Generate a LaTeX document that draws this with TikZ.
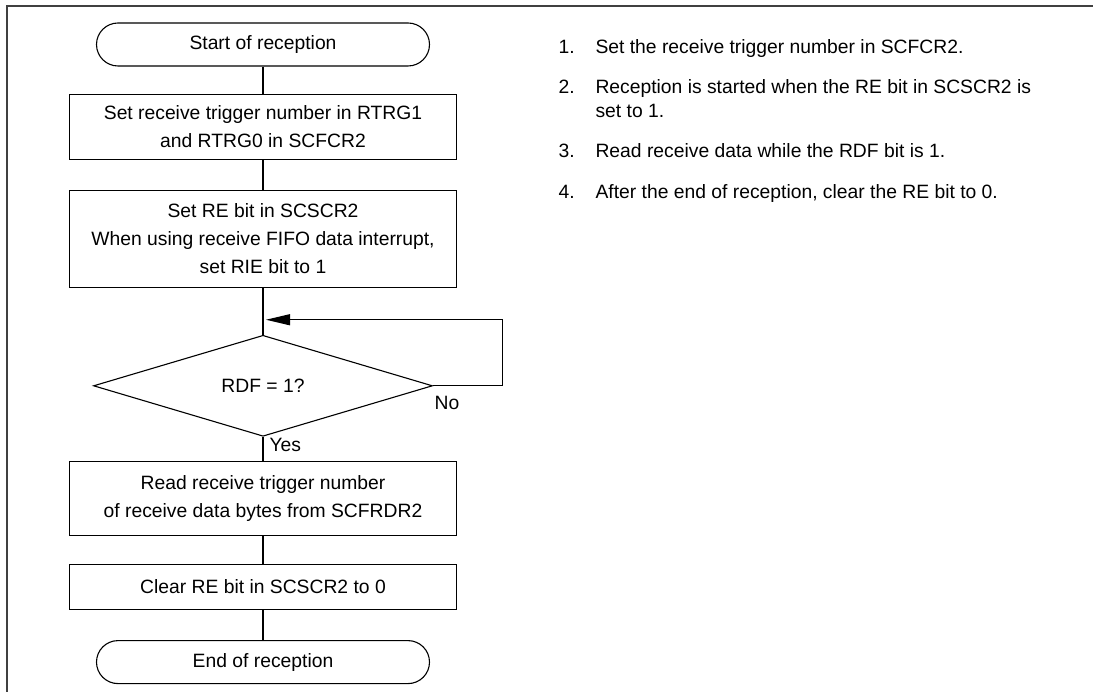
\documentclass[tikz,border=0pt]{standalone}
\usepackage{fontspec}
\setmainfont{Liberation Sans}
\usetikzlibrary{positioning,shapes.geometric,arrows.meta}

\begin{document}
\begin{tikzpicture}[x=1pt,y=1pt,line width=1.1pt,
  t/.style={draw,rounded corners=21.5pt,minimum width=333pt,minimum height=43pt,inner sep=0pt,font=\fontsize{19.3}{28}\selectfont},
  b/.style={draw,align=center,minimum width=387pt,inner sep=0pt,font=\fontsize{19.3}{28}\selectfont},
  q/.style={draw,diamond,aspect=3.36,minimum width=339pt,minimum height=101pt,inner sep=0pt,font=\fontsize{19.3}{28}\selectfont},
  l/.style={inner sep=0pt,font=\fontsize{19.3}{28}\selectfont},
  n/.style={anchor=base west,inner sep=0pt,font=\fontsize{19.3}{24}\selectfont}]
\useasboundingbox (0,0) rectangle (1093,-692);
\draw[line width=1.6pt,black!75] (1093,-6) -- (7,-6) -- (7,-692);
% flow chart
\node[t] (start) at (263,-44.5) {Start of reception};
\node[b,minimum height=65pt,below=27pt of start] (s1) {Set receive trigger number in RTRG1\\and RTRG0 in SCFCR2};
\node[b,minimum height=97pt,below=30pt of s1] (s2) {Set RE bit in SCSCR2\\When using receive FIFO data interrupt,\\set RIE bit to 1};
\node[q,below=47pt of s2] (d) {RDF = 1?};
\node[b,minimum height=74pt,below=24pt of d] (s3) {Read receive trigger number\\of receive data bytes from SCFRDR2};
\node[b,minimum height=45pt,below=28pt of s3] (s4) {Clear RE bit in SCSCR2 to 0};
\node[t,below=30pt of s4] (stop) {End of reception};
\coordinate (j) at ([yshift=15pt]d.north);
\node[l,anchor=north west] (no) at ([xshift=1pt,yshift=-10pt]d.east) {No};
\node[l,anchor=north west] (yes) at ([xshift=6pt,yshift=-1pt]d.south) {Yes};
\draw (start)--(s1); \draw (s1)--(s2); \draw (s2)--(d); \draw (d)--(s3);
\draw (s3)--(s4); \draw (s4)--(stop);
\draw[-{Triangle[length=24pt,width=11pt]}] (d.east) -- ++(69,0) |- ([xshift=3pt]j);
% notes
\node[n] (n1) at (558,-54) {1.};
\node[n] (i1) at (595,-54) {Set the receive trigger number in SCFCR2.};
\node[n] (n2) at (558,-94) {2.};
\node[n,align=left] (i2) at (595,-118) {Reception is started when the RE bit in SCSCR2 is\\set to 1.};
\node[n] (n3) at (558,-158) {3.};
\node[n] (i3) at (595,-158) {Read receive data while the RDF bit is 1.};
\node[n] (n4) at (558,-199) {4.};
\node[n] (i4) at (595,-199) {After the end of reception, clear the RE bit to 0.};
\end{tikzpicture}
\end{document}
